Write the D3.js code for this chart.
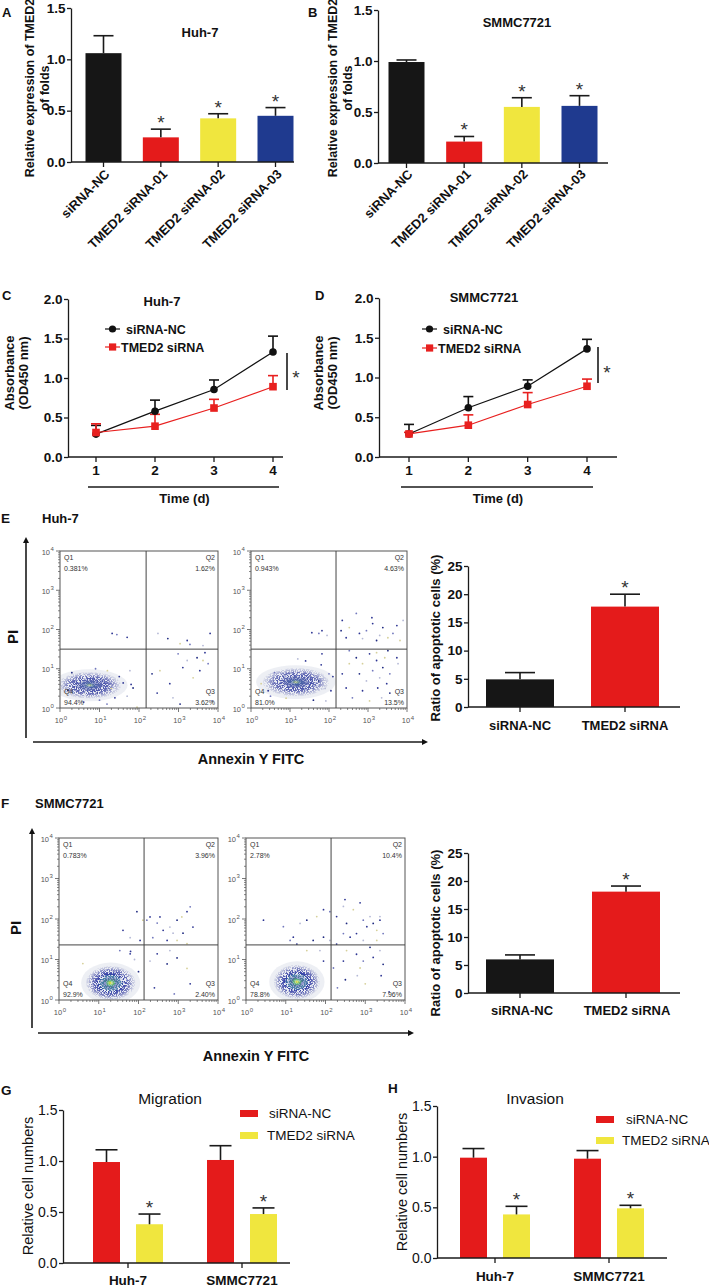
<!DOCTYPE html>
<html><head><meta charset="utf-8">
<script src="https://cdn.jsdelivr.net/npm/d3@7"></script>
<style>
body{margin:0;background:#fff;}
svg{display:block;}
</style></head><body>
<svg id="fig" width="709" height="1287"></svg>
<script>
// ---------------- DATA ----------------
const panelACats = ["siRNA-NC","TMED2 siRNA-01","TMED2 siRNA-02","TMED2 siRNA-03"];
const panelAMean = [1.06,0.24,0.425,0.45];
const panelAErr  = [0.17,0.08,0.045,0.08];
const panelBMean = [0.99,0.21,0.55,0.56];
const panelBErr  = [0.02,0.05,0.09,0.10];
const panelABStar = [false,true,true,true];
const expTicks = [0,0.5,1.0,1.5];

const days = [1,2,3,4];
const cNCMean = [0.29,0.58,0.855,1.33];
const cNCErr  = [0.11,0.14,0.12,0.20];
const cSiMean = [0.31,0.39,0.62,0.89];
const cSiErr  = [0.11,0.15,0.11,0.14];
const dNCMean = [0.29,0.62,0.89,1.36];
const dNCErr  = [0.12,0.14,0.08,0.12];
const dSiMean = [0.29,0.40,0.66,0.89];
const dSiErr  = [0.02,0.13,0.15,0.09];
const absTicks = [0,0.5,1.0,1.5,2.0];
const lineSeries = ["siRNA-NC","TMED2 siRNA"];

const apoCats = ["siRNA-NC","TMED2 siRNA"];
const eApoMean = [4.9,17.8];
const eApoErr  = [1.2,2.2];
const fApoMean = [6.0,18.1];
const fApoErr  = [0.8,1.0];
const apoStar = [false,true];
const apoTicks = [0,5,10,15,20,25];

const cellLines = ["Huh-7","SMMC7721"];
const groupSeries = ["siRNA-NC","TMED2 siRNA"];
const migNC = [0.99,1.01], migNCErr = [0.12,0.14];
const migSi = [0.38,0.48], migSiErr = [0.10,0.06];
const invNC = [0.99,0.98], invNCErr = [0.09,0.08];
const invSi = [0.43,0.49], invSiErr = [0.08,0.03];
const cellTicks = [0,0.5,1.0,1.5];

// flow cytometry (log10 units)
const flowQuadNames = ["Q1","Q2","Q3","Q4"];
const eNCQuad = ["0.381%","1.62%","3.62%","94.4%"];
const eSiQuad = ["0.943%","4.63%","13.5%","81.0%"];
const fNCQuad = ["0.783%","3.96%","2.40%","92.9%"];
const fSiQuad = ["2.78%","10.4%","7.96%","78.8%"];
const flowDecades = [0,1,2,3,4];
const eGate = [2.18,1.50];
const fGate = [2.14,1.36];
const eNCCluster = [0.75,0.58,0.80,0.34];
const eSiCluster = [1.15,0.66,0.85,0.36];
const fNCCluster = [1.30,0.42,0.62,0.42];
const fSiCluster = [1.28,0.45,0.58,0.42];
const eNCDots = [[1.32,1.9],[1.44,1.87],[1.7,1.8],
 [2.48,1.9],[2.73,1.77],[3.04,1.64],[3.22,1.72],[3.29,1.62],[3.8,1.9],[3.62,1.59],
 [2.33,0.87],[2.53,0.95],[2.78,0.62],[2.99,1.38],[3.11,1.03],[3.22,1.21],[3.47,1.28],[3.62,1.21],[3.67,1.41],[3.75,1.13],[2.46,0.38],[2.86,0.26],[3.04,0.1],[3.37,0.77],[3.54,0.95],[3.85,0.18],
 [1.6,0.64],[1.77,0.95],[1.85,0.51],[1.95,0.02],[1.39,0.26],[1.19,0.1],[0.94,0.38],[0.51,0.87],[0.3,0.9],[1.2,0.95],[1.5,0.8],[1.0,0.2],[0.6,0.15],[1.7,0.3],[0.2,0.45],[1.3,0.5],[1.8,0.6],[0.9,1.0]];
const eSiDots = [[1.56,1.92],[1.74,1.9],[1.82,1.97],[1.95,1.85],
 [2.31,1.97],[2.52,2.05],[2.78,1.9],[2.96,1.97],[3.12,2.15],[3.3,1.85],[3.38,2.05],[3.51,1.79],[3.74,2.1],[3.64,1.9],[2.44,1.79],[2.86,1.77],[3.22,1.72],[3.82,1.72],[2.34,2.23],[2.7,2.41],[3.1,2.3],[3.9,2.23],
 [2.7,1.28],[2.86,1.13],[3.04,1.38],[3.12,0.95],[3.22,1.21],[3.3,0.77],[3.38,1.03],[3.43,1.28],[3.48,0.62],[3.56,0.87],[3.25,0.51],[2.96,0.69],[2.78,0.87],[2.52,1.13],[2.44,0.51],[2.6,0.26],[3.74,1.28],[3.77,1.13],[3.51,1.46],[3.04,0.18],[2.34,0.87],[2.52,1.46],[2.86,0.44],[3.35,0.26],[3.56,0.38],[3.22,1.41],
 [1.82,1.38],[2.0,0.87],[2.05,0.44],[1.92,0.18],[1.74,0.69],[0.26,0.62],[0.44,0.44],[0.6,0.9],[1.8,1.1],[1.9,0.5],[1.6,0.2],[0.9,0.25],[1.4,1.2],[0.5,0.3],[2.1,0.8],[1.2,1.25]];
const fNCDots = [[2.29,2.05],[2.47,1.9],[2.62,1.72],[2.79,1.8],[2.97,1.97],[3.09,2.05],[3.22,2.18],[3.3,2.3],[3.37,1.8],[2.87,1.65],[3.12,1.65],[2.97,1.47],[2.72,1.47],[2.36,1.54],[2.47,1.14],[2.79,1.22],[2.97,1.04],[3.22,1.39],[2.54,2.05],[2.21,1.97],
 [1.61,1.72],[1.79,1.54],[1.96,2.18],[2.11,1.97],[2.04,1.47],
 [1.53,1.22],[1.79,1.14],[2.29,0.96],[2.72,0.89],[3.22,0.78],[2.4,0.3],[2.9,0.15],[3.3,0.4],[1.9,1.0],[2.0,0.7],[0.6,0.9],[1.8,1.2]];
const fSiDots = [[0.44,1.97],[0.94,1.81],[1.19,1.55],[1.36,1.89],[1.53,1.97],[1.78,2.06],[1.95,2.23],[2.11,2.18],[2.28,2.06],[2.45,2.31],[2.53,1.89],[2.7,2.23],[2.87,2.4],[2.95,1.97],[3.04,1.81],[3.12,2.06],[3.2,1.89],[3.29,1.72],[3.37,1.97],[3.45,1.64],[2.78,1.64],[2.95,1.47],[3.12,1.3],[3.29,1.47],[2.62,1.55],[2.45,1.64],[2.28,1.38],[2.11,1.47],[1.95,1.55],[2.53,1.22],[2.78,1.13],[2.95,0.96],[3.2,1.05],[3.37,1.22],[3.45,0.88],[2.87,0.79],[2.45,0.96],[2.2,0.79],[1.95,0.96],[1.86,1.22],[1.69,1.47],[1.53,1.22],[1.28,1.38],[1.11,1.47],[2.49,2.48],[3.37,2.06],
 [2.5,0.5],[3.0,0.4],[3.4,0.6],[2.3,0.3],[3.6,0.2],[2.8,0.6]];

// ---------------- DRAWING ----------------
const FONT = '"Liberation Sans", Arial, Helvetica, sans-serif';
const svg = d3.select("#fig");
svg.append("rect").attr("width",709).attr("height",1287).attr("fill","#fff");
const defs = svg.append("defs");
function grad(id, stops){
  const g = defs.append("radialGradient").attr("id",id);
  stops.forEach(s=>g.append("stop").attr("offset",s[0]).attr("stop-color",s[1]).attr("stop-opacity",s[2]));
}
grad("gradE",[[0,"#c9cf6a",1],[0.15,"#5b86a6",1],[0.4,"#3a46a6",1],[0.7,"#6a70b8",0.9],[1,"#b8bcd8",0.3]]);
grad("gradF",[[0,"#eee83c",1],[0.16,"#8cc45a",1],[0.32,"#2f9a9a",1],[0.52,"#3540a8",1],[0.78,"#6a70b8",0.85],[1,"#b8bcd8",0.3]]);
const spk = defs.append("filter").attr("id","speckle").attr("x","-20%").attr("y","-20%").attr("width","140%").attr("height","140%");
spk.append("feTurbulence").attr("type","fractalNoise").attr("baseFrequency",1.3).attr("numOctaves",2).attr("seed",7).attr("result","noise");
spk.append("feColorMatrix").attr("in","noise").attr("type","matrix")
  .attr("values","0 0 0 0 0  0 0 0 0 0  0 0 0 0 0  0 0 0 -7 4.2").attr("result","mask");
spk.append("feComposite").attr("in","SourceGraphic").attr("in2","mask").attr("operator","in");
const dotColors = ["#2d3593","#7278bd","#2d3593","#b5b9d6","#1f2a80","#d6d09a"];

function txt(x,y,s,o={}){
  const t = svg.append("text").attr("x",x).attr("y",y).text(s)
    .attr("font-family",FONT).attr("font-size",o.size||12)
    .attr("font-weight",o.weight||"bold").attr("fill",o.fill||"#111")
    .attr("text-anchor",o.anchor||"start");
  if(o.rotate!=null) t.attr("transform",`rotate(${o.rotate},${x},${y})`);
  return t;
}
function line(x1,y1,x2,y2,o={}){
  return svg.append("line").attr("x1",x1).attr("y1",y1).attr("x2",x2).attr("y2",y2)
    .attr("stroke",o.color||"#1a1a1a").attr("stroke-width",o.w||1.3);
}
function styleAxis(g,size,weight){
  g.attr("font-family",FONT);
  g.selectAll("path,line").attr("stroke","#1a1a1a").attr("stroke-width",1.3);
  g.selectAll("text").attr("font-family",FONT).attr("font-size",size).attr("font-weight",weight).attr("fill","#111");
}

function barChart(o){
  const x = d3.scalePoint().domain(o.cats).range(o.centers);
  const y = d3.scaleLinear().domain(o.yDomain).range(o.yRange);
  o.means.forEach((m,i)=>{
    const cx = x(o.cats[i]);
    svg.append("rect").attr("x",cx-o.barW/2).attr("y",y(m)).attr("width",o.barW)
      .attr("height",y(0)-y(m)).attr("fill",o.colors[i]);
    const top = y(m+o.errs[i]);
    line(cx,y(m),cx,top,{w:1.6});
    line(cx-o.capW/2,top,cx+o.capW/2,top,{w:1.6});
    if(o.stars && o.stars[i]) txt(cx,top,"*",{size:19,weight:"normal",anchor:"middle",fill:"#333"});
  });
  const ga = svg.append("g").attr("transform",`translate(${o.axisX},0)`)
    .call(d3.axisLeft(y).tickValues(o.ticks).tickFormat(o.fmt).tickSize(4).tickSizeOuter(0).tickPadding(1.5));
  styleAxis(ga,o.tickFont||13.5,o.tickWeight||"bold");
  line(o.axisX,y(0),o.xEnd,y(0));
  o.cats.forEach(c=>line(x(c),y(0),x(c),y(0)+5));
  return {x,y};
}

function groupChart(o){
  const x = d3.scalePoint().domain(cellLines).range(o.centers);
  const inner = d3.scalePoint().domain(groupSeries).range([-o.off,o.off]);
  const y = d3.scaleLinear().domain([0,1.5]).range(o.yRange);
  const series = [{m:o.nc,e:o.ncErr,c:"#e41b1b",s:false},{m:o.si,e:o.siErr,c:"#f0e63e",s:true}];
  series.forEach((s,si)=>{
    s.m.forEach((m,i)=>{
      const cx = x(cellLines[i])+inner(groupSeries[si]);
      svg.append("rect").attr("x",cx-o.barW/2).attr("y",y(m)).attr("width",o.barW)
        .attr("height",y(0)-y(m)).attr("fill",s.c);
      const top = y(m+s.e[i]);
      line(cx,y(m),cx,top,{w:1.6});
      line(cx-o.capW/2,top,cx+o.capW/2,top,{w:1.6});
      if(s.s) txt(cx,top,"*",{size:19,weight:"normal",anchor:"middle",fill:"#333"});
    });
  });
  const ga = svg.append("g").attr("transform",`translate(${o.axisX},0)`)
    .call(d3.axisLeft(y).tickValues(cellTicks).tickFormat(d3.format(".1f")).tickSize(4).tickSizeOuter(0).tickPadding(1.5));
  styleAxis(ga,14,"normal");
  line(o.axisX,y(0),o.xEnd,y(0));
  cellLines.forEach(c=>{
    line(x(c),y(0),x(c),y(0)+5);
    txt(x(c),o.labY,c,{size:13.5,anchor:"middle"});
  });
  const leg = [{c:"#e41b1b",n:groupSeries[0],tx:o.leg.tx1,y:o.leg.y1},{c:"#f0e63e",n:groupSeries[1],tx:o.leg.tx2,y:o.leg.y2}];
  leg.forEach(l=>{
    svg.append("rect").attr("x",o.leg.rx).attr("y",l.y).attr("width",18).attr("height",7).attr("fill",l.c);
    txt(l.tx,l.y+8,l.n,{size:13.5,weight:"normal"});
  });
}

function lineChart(o){
  const x = d3.scaleLinear().domain([1,4]).range(o.xRange);
  const y = d3.scaleLinear().domain([0,2]).range(o.yRange);
  const series = [{m:o.nc,e:o.ncErr,c:"#111",mk:"circle"},{m:o.si,e:o.siErr,c:"#e8201f",mk:"square"}];
  series.forEach(s=>{
    s.m.forEach((m,i)=>{
      const cx=x(days[i]), top=y(m+s.e[i]);
      line(cx,y(m),cx,top,{color:s.c,w:1.6});
      line(cx-5,top,cx+5,top,{color:s.c,w:1.6});
    });
  });
  series.forEach(s=>{
    svg.append("path").attr("d",d3.line().x((d,i)=>x(days[i])).y(d=>y(d))(s.m))
      .attr("fill","none").attr("stroke",s.c).attr("stroke-width",1.2);
    s.m.forEach((m,i)=>{
      if(s.mk==="circle") svg.append("circle").attr("cx",x(days[i])).attr("cy",y(m)).attr("r",3.8).attr("fill",s.c);
      else svg.append("rect").attr("x",x(days[i])-3.8).attr("y",y(m)-3.8).attr("width",7.6).attr("height",7.6).attr("fill",s.c);
    });
  });
  const ga = svg.append("g").attr("transform",`translate(${o.axisX},0)`)
    .call(d3.axisLeft(y).tickValues(absTicks).tickFormat(d3.format(".1f")).tickSize(4).tickSizeOuter(0).tickPadding(1.5));
  styleAxis(ga,13.5,"bold");
  line(o.axisX,y(0),o.xEnd,y(0));
  days.forEach(d=>{
    line(x(d),y(0),x(d),y(0)+5);
    txt(x(d),y(0)+18,String(d),{size:13.5,anchor:"middle"});
  });
  const lx=o.legX;
  line(lx,o.legY1,lx+15,o.legY1,{w:1.2,color:"#111"});
  svg.append("circle").attr("cx",lx+7.5).attr("cy",o.legY1).attr("r",3.6).attr("fill","#111");
  txt(lx+21,o.legY1+4.5,lineSeries[0],{size:12.5});
  line(lx,o.legY2,lx+15,o.legY2,{w:1.2,color:"#e8201f"});
  svg.append("rect").attr("x",lx+4).attr("y",o.legY2-3.6).attr("width",7.2).attr("height",7.2).attr("fill","#e8201f");
  txt(lx+16,o.legY2+4.5,lineSeries[1],{size:12.5});
  line(o.sigX,o.sigY1,o.sigX,o.sigY2,{w:1.6});
  txt(o.sigX+9,o.sigStarY,"*",{size:19,weight:"normal",anchor:"middle",fill:"#333"});
  line(x(1)-8,o.rulerY,x(4)+6,o.rulerY,{w:1.4});
  txt((x(1)+x(4))/2,o.rulerY+16,"Time (d)",{size:13,anchor:"middle"});
}

let clipId=0;
function flowPlot(o){
  const sx = d3.scaleLinear().domain([0,4]).range([o.x0,o.x1]);
  const sy = d3.scaleLinear().domain([0,4]).range([o.y1,o.y0]);
  const id = "clip"+(clipId++);
  defs.append("clipPath").attr("id",id).append("rect")
    .attr("x",o.x0).attr("y",o.y0).attr("width",o.x1-o.x0).attr("height",o.y1-o.y0);
  const g = svg.append("g").attr("clip-path",`url(#${id})`);
  const [cx,cy,rx,ry] = o.cluster;
  g.append("ellipse").attr("cx",sx(cx)).attr("cy",sy(cy))
    .attr("rx",(sx(rx)-sx(0))*1.2).attr("ry",(sy(0)-sy(ry))*1.2).attr("fill","#e6e8f0").attr("opacity",0.7);
  g.append("ellipse").attr("cx",sx(cx)).attr("cy",sy(cy))
    .attr("rx",sx(rx)-sx(0)).attr("ry",sy(0)-sy(ry)).attr("fill",`url(#${o.grad})`).attr("filter","url(#speckle)");
  g.append("ellipse").attr("cx",sx(cx)).attr("cy",sy(cy))
    .attr("rx",(sx(rx)-sx(0))*0.45).attr("ry",(sy(0)-sy(ry))*0.45).attr("fill",`url(#${o.grad})`).attr("opacity",0.55);
  g.selectAll("circle.d").data(o.dots).join("circle")
    .attr("cx",d=>sx(d[0])).attr("cy",d=>sy(d[1])).attr("r",0.9)
    .attr("fill",(d,i)=>dotColors[i%dotColors.length]);
  svg.append("rect").attr("x",o.x0).attr("y",o.y0).attr("width",o.x1-o.x0).attr("height",o.y1-o.y0)
    .attr("fill","none").attr("stroke","#555").attr("stroke-width",1);
  line(sx(o.gate[0]),o.y0,sx(o.gate[0]),o.y1,{color:"#444",w:1});
  line(o.x0,sy(o.gate[1]),o.x1,sy(o.gate[1]),{color:"#444",w:1});
  const minor=[];
  for(let dd=0; dd<4; dd++) for(let k=2;k<=9;k++) minor.push(dd+Math.log10(k));
  minor.forEach(v=>{
    line(o.x0,sy(v),o.x0-2,sy(v),{color:"#555",w:0.7});
    line(sx(v),o.y1,sx(v),o.y1+2,{color:"#555",w:0.7});
  });
  flowDecades.forEach(v=>{
    line(o.x0,sy(v),o.x0-4,sy(v),{color:"#555",w:0.8});
    line(sx(v),o.y1,sx(v),o.y1+4,{color:"#555",w:0.8});
    svg.append("text").attr("x",o.x0-10).attr("y",sy(v)+3.5).attr("text-anchor","end")
      .attr("font-family",FONT).attr("font-size",7.5).attr("fill","#555").text("10");
    svg.append("text").attr("x",o.x0-9.5).attr("y",sy(v)-0.5).attr("font-family",FONT)
      .attr("font-size",6).attr("fill","#555").text(String(v));
    svg.append("text").attr("x",sx(v)-1).attr("y",o.y1+15).attr("text-anchor","middle")
      .attr("font-family",FONT).attr("font-size",7.5).attr("fill","#555").text("10");
    svg.append("text").attr("x",sx(v)+3.8).attr("y",o.y1+11.5).attr("font-family",FONT)
      .attr("font-size",6).attr("fill","#555").text(String(v));
  });
  const qs={size:7,weight:"normal",fill:"#333"};
  txt(o.x0+4,o.y0+9,flowQuadNames[0],qs);
  txt(o.x0+4,o.y0+20,o.quad[0],qs);
  txt(o.x1-3,o.y0+9,flowQuadNames[1],{...qs,anchor:"end"});
  txt(o.x1-3,o.y0+20,o.quad[1],{...qs,anchor:"end"});
  txt(o.x1-3,o.y1-14,flowQuadNames[2],{...qs,anchor:"end"});
  txt(o.x1-3,o.y1-3,o.quad[2],{...qs,anchor:"end"});
  txt(o.x0+4,o.y1-14,flowQuadNames[3],qs);
  txt(o.x0+4,o.y1-3,o.quad[3],qs);
}
function arrowsFlow(vx,vy0,vy1,hy,hx0,hx1,piX,piY,annX,annY){
  line(vx,vy1,vx,vy0+4,{w:1.6});
  svg.append("path").attr("d",`M${vx-3},${vy0+6} L${vx},${vy0} L${vx+3},${vy0+6} Z`).attr("fill","#111");
  line(hx0,hy,hx1-4,hy,{w:1.6});
  svg.append("path").attr("d",`M${hx1-6},${hy-3} L${hx1},${hy} L${hx1-6},${hy+3} Z`).attr("fill","#111");
  txt(piX,piY,"PI",{size:15,anchor:"middle",rotate:-90});
  txt(annX,annY,"Annexin Y FITC",{size:14.5,anchor:"middle"});
}

// ---- Panel A ----
txt(2,17,"A",{size:13});
barChart({cats:panelACats,means:panelAMean,errs:panelAErr,colors:["#161616","#e41b1b","#f0e63e","#1f3a8f"],
  stars:panelABStar,centers:[103.5,275.5],barW:36,capW:20,yDomain:[0,1.5],yRange:[162,8],
  ticks:expTicks,fmt:d3.format(".1f"),axisX:71,xEnd:294});
txt(200,37,"Huh-7",{size:13,anchor:"middle"});
txt(34,88,"Relative expression of TMED2",{size:12.5,anchor:"middle",rotate:-90});
txt(49,88,"of folds",{size:12.5,anchor:"middle",rotate:-90});
// ---- Panel B ----
txt(308,17,"B",{size:13});
barChart({cats:panelACats,means:panelBMean,errs:panelBErr,colors:["#161616","#e41b1b","#f0e63e","#1f3a8f"],
  stars:panelABStar,centers:[406.5,579.5],barW:36,capW:20,yDomain:[0,1.5],yRange:[163,10],
  ticks:expTicks,fmt:d3.format(".1f"),axisX:378,xEnd:608});
txt(517,27,"SMMC7721",{size:13,anchor:"middle"});
txt(337,88,"Relative expression of TMED2",{size:12.5,anchor:"middle",rotate:-90});
txt(352,88,"of folds",{size:12.5,anchor:"middle",rotate:-90});
[[103.5,161,218.5,275.5],[406.5,464.5,521.5,579.5]].forEach(cs=>{
  cs.forEach((c,i)=>txt(c+7,175,panelACats[i],{size:13,weight:"bold",anchor:"end",rotate:-45}));
});

// ---- Panel C / D ----
txt(2,300,"C",{size:13});
lineChart({nc:cNCMean,ncErr:cNCErr,si:cSiMean,siErr:cSiErr,xRange:[96,273],yRange:[457,299],axisX:68,xEnd:283,
  legX:105,legY1:329,legY2:347,sigX:287,sigY1:353,sigY2:390,sigStarY:384,rulerY:487});
txt(162,306,"Huh-7",{size:13,anchor:"middle"});
txt(14,373,"Absorbance",{size:13,anchor:"middle",rotate:-90});
txt(28,373,"(OD450 nm)",{size:13,anchor:"middle",rotate:-90});
txt(315,300,"D",{size:13});
lineChart({nc:dNCMean,ncErr:dNCErr,si:dSiMean,siErr:dSiErr,xRange:[409,587],yRange:[457,298],axisX:379,xEnd:617,
  legX:422,legY1:329,legY2:348,sigX:598,sigY1:347,sigY2:383,sigStarY:379,rulerY:487});
txt(484,302,"SMMC7721",{size:13,anchor:"middle"});
txt(323,373,"Absorbance",{size:13,anchor:"middle",rotate:-90});
txt(337,373,"(OD450 nm)",{size:13,anchor:"middle",rotate:-90});

// ---- Panel E ----
txt(1,523,"E",{size:13.5});
txt(42,523,"Huh-7",{size:13});
flowPlot({x0:60,x1:218,y0:551,y1:708,gate:eGate,cluster:eNCCluster,dots:eNCDots,quad:eNCQuad,grad:"gradE"});
flowPlot({x0:251,x1:407,y0:551,y1:708,gate:eGate,cluster:eSiCluster,dots:eSiDots,quad:eSiQuad,grad:"gradE"});
arrowsFlow(26,537,738,742,33,428,18,637,251,764);
barChart({cats:apoCats,means:eApoMean,errs:eApoErr,colors:["#161616","#e41b1b"],stars:apoStar,
  centers:[520,625],barW:68,capW:30,yDomain:[0,25],yRange:[707,566],ticks:apoTicks,fmt:d3.format("d"),
  axisX:468,xEnd:680});
apoCats.forEach((c,i)=>txt([520,625][i],730,c,{size:13,anchor:"middle"}));
txt(440,638,"Ratio of apoptotic cells (%)",{size:13,anchor:"middle",rotate:-90});

// ---- Panel F ----
txt(1,808,"F",{size:13.5});
txt(35,808,"SMMC7721",{size:13});
flowPlot({x0:59,x1:218,y0:838,y1:1000,gate:fGate,cluster:fNCCluster,dots:fNCDots,quad:fNCQuad,grad:"gradF"});
flowPlot({x0:246,x1:405,y0:838,y1:1000,gate:fGate,cluster:fSiCluster,dots:fSiDots,quad:fSiQuad,grad:"gradF"});
arrowsFlow(32,828,1028,1033,38,414,21,928,256,1061);
barChart({cats:apoCats,means:fApoMean,errs:fApoErr,colors:["#161616","#e41b1b"],stars:apoStar,
  centers:[520,626],barW:68,capW:30,yDomain:[0,25],yRange:[993,853],ticks:apoTicks,fmt:d3.format("d"),
  axisX:468,xEnd:680});
apoCats.forEach((c,i)=>txt([522,627][i],1015,c,{size:13,anchor:"middle"}));
txt(440,933,"Ratio of apoptotic cells (%)",{size:13,anchor:"middle",rotate:-90});

// ---- Panel G ----
txt(1,1095,"G",{size:13.5});
groupChart({nc:migNC,ncErr:migNCErr,si:migSi,siErr:migSiErr,centers:[128,242],off:21.5,barW:27,capW:22,
  yRange:[1263,1110],axisX:63,xEnd:290,labY:1285,leg:{rx:240,tx1:269,tx2:267,y1:1110,y2:1132}});
txt(170,1104,"Migration",{size:15.5,weight:"normal",anchor:"middle"});
txt(33,1186,"Relative cell numbers",{size:14.5,weight:"normal",anchor:"middle",rotate:-90});
// ---- Panel H ----
txt(388,1093,"H",{size:13.5});
groupChart({nc:invNC,ncErr:invNCErr,si:invSi,siErr:invSiErr,centers:[495,609],off:21.5,barW:27,capW:22,
  yRange:[1258,1106],axisX:437,xEnd:667,labY:1281,leg:{rx:596,tx1:626,tx2:622,y1:1116,y2:1137}});
txt(535,1104,"Invasion",{size:15.5,weight:"normal",anchor:"middle"});
txt(407,1182,"Relative cell numbers",{size:14.5,weight:"normal",anchor:"middle",rotate:-90});
</script>
</body></html>
